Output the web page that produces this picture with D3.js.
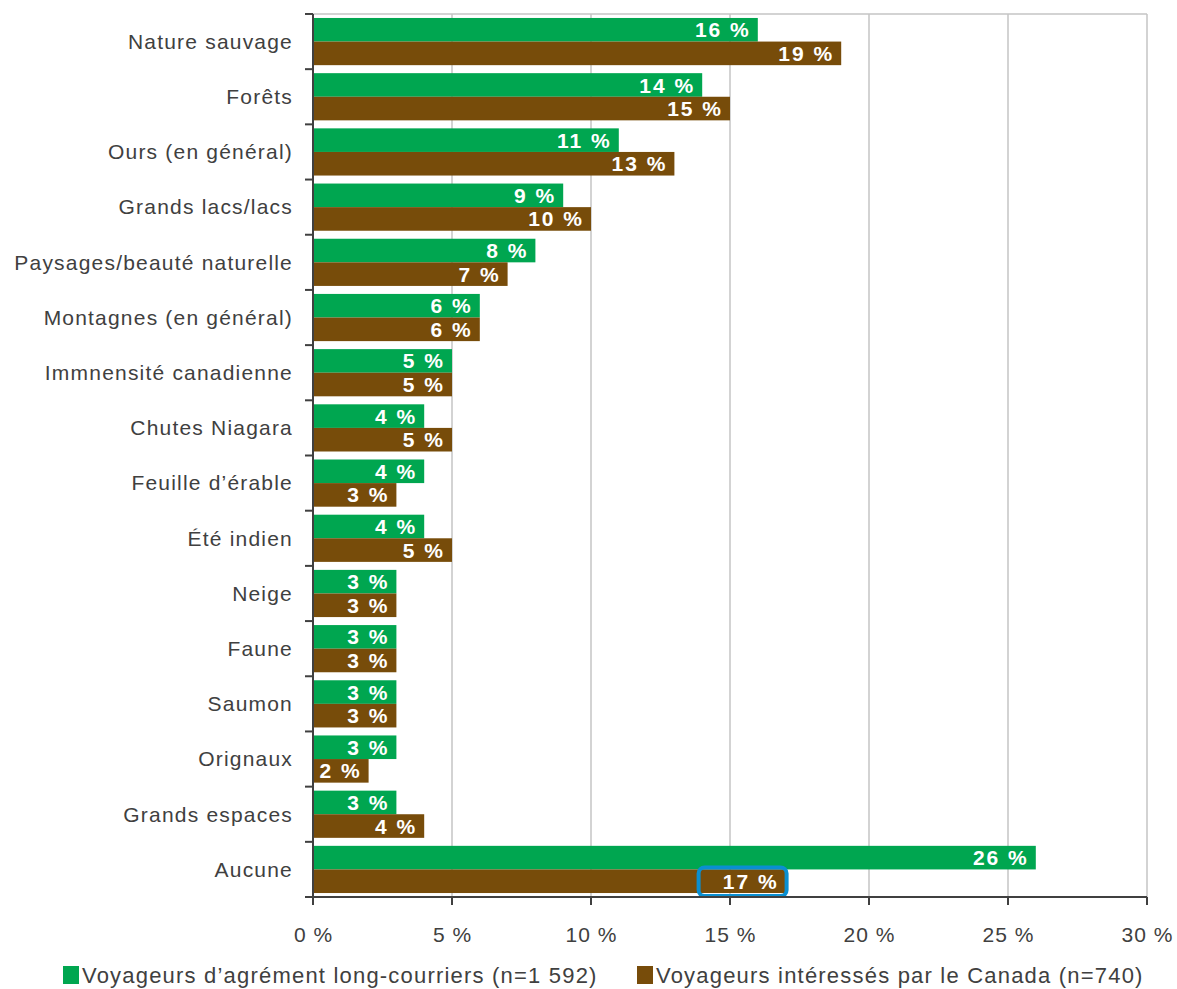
<!DOCTYPE html>
<html lang="fr">
<head>
<meta charset="utf-8">
<script src="https://d3js.org/d3.v7.min.js"></script>
<style>
  body { margin: 0; background: #fff; }
  svg text { font-family: "Liberation Sans", Arial, sans-serif; }
</style>
</head>
<body>
<div id="chart"></div>
<script>
  const categories = ["Nature sauvage", "Forêts", "Ours (en général)", "Grands lacs/lacs",
    "Paysages/beauté naturelle", "Montagnes (en général)", "Immnensité canadienne",
    "Chutes Niagara", "Feuille d’érable", "Été indien", "Neige", "Faune", "Saumon",
    "Orignaux", "Grands espaces", "Aucune"];
  const longHaul = [16, 14, 11, 9, 8, 6, 5, 4, 4, 4, 3, 3, 3, 3, 3, 26];
  const canada = [19, 15, 13, 10, 7, 6, 5, 5, 3, 5, 3, 3, 3, 2, 4, 17];
  const seriesNames = ["Voyageurs d’agrément long-courriers (n=1 592)",
    "Voyageurs intéressés par le Canada (n=740)"];
  const xTicks = [0, 5, 10, 15, 20, 25, 30];
  const colors = ["#00a650", "#774c0a"];
  const highlight = { cat: "Aucune", series: 1 };

  const W = 1177, H = 989;
  const m = { left: 313, right: 30, top: 14, bottom: 92 };
  const svg = d3.select("#chart").append("svg").attr("width", W).attr("height", H);

  const x = d3.scaleLinear().domain([0, 30]).range([m.left, W - m.right]);
  const y = d3.scaleBand().domain(categories).range([m.top, H - m.bottom]).paddingInner(0.145).paddingOuter(0.072);
  const ySub = d3.scaleBand().domain([0, 1]).range([0, y.bandwidth()]);

  // grid
  svg.append("g").selectAll("line").data(xTicks.slice(1)).join("line")
    .attr("x1", d => x(d)).attr("x2", d => x(d))
    .attr("y1", m.top).attr("y2", H - m.bottom)
    .attr("stroke", "#c4c4c4").attr("stroke-width", 1.5);
  svg.append("line").attr("x1", m.left).attr("x2", x(30))
    .attr("y1", m.top).attr("y2", m.top).attr("stroke", "#c4c4c4").attr("stroke-width", 1.5);

  const rows = categories.map((c, i) => ({ c, v: [longHaul[i], canada[i]] }));
  const g = svg.append("g").selectAll("g").data(rows).join("g")
    .attr("transform", d => `translate(0,${y(d.c)})`);
  [0, 1].forEach(s => {
    g.append("rect")
      .attr("x", x(0)).attr("y", ySub(s))
      .attr("width", d => x(d.v[s]) - x(0)).attr("height", ySub.bandwidth())
      .attr("fill", colors[s]);
    g.append("text")
      .attr("x", d => x(d.v[s]) - 7).attr("y", ySub(s) + ySub.bandwidth() / 2)
      .attr("dy", "0.36em").attr("text-anchor", "end")
      .attr("fill", "#fff").attr("font-size", 21).attr("font-weight", "bold")
      .attr("letter-spacing", 2)
      .text(d => d.v[s] + " %");
  });

  // highlight box
  const hi = categories.indexOf(highlight.cat);
  const hv = [longHaul, canada][highlight.series][hi];
  svg.append("rect")
    .attr("x", x(hv) - 87).attr("y", y(highlight.cat) + ySub(highlight.series) - 2)
    .attr("width", 88).attr("height", ySub.bandwidth() + 5)
    .attr("rx", 6).attr("fill", "none").attr("stroke", "#0a8fd1").attr("stroke-width", 4);

  // axes
  const yAxis = svg.append("g").attr("transform", `translate(${m.left},0)`);
  yAxis.append("line").attr("x1", 0).attr("x2", 0).attr("y1", m.top).attr("y2", H - m.bottom)
    .attr("stroke", "#404040").attr("stroke-width", 2);
  const bounds = categories.map(c => y(c) - y.step() * y.paddingInner() / 2).concat([H - m.bottom]);
  yAxis.selectAll(".tk").data(bounds).join("line")
    .attr("x1", -8).attr("x2", 0).attr("y1", d => d).attr("y2", d => d)
    .attr("stroke", "#404040").attr("stroke-width", 2);
  yAxis.selectAll("text").data(categories).join("text")
    .attr("x", -20).attr("y", c => y(c) + y.bandwidth() / 2).attr("dy", "0.35em")
    .attr("text-anchor", "end").attr("fill", "#404040").attr("font-size", 21)
    .attr("letter-spacing", 1.2)
    .text(c => c);

  const xAxis = svg.append("g").attr("transform", `translate(0,${H - m.bottom})`);
  xAxis.append("line").attr("x1", m.left).attr("x2", x(30)).attr("stroke", "#404040").attr("stroke-width", 2);
  xAxis.selectAll(".tk").data(xTicks).join("line")
    .attr("x1", d => x(d)).attr("x2", d => x(d)).attr("y1", 0).attr("y2", 8)
    .attr("stroke", "#404040").attr("stroke-width", 2);
  xAxis.selectAll("text").data(xTicks).join("text")
    .attr("x", d => x(d) + 0.5).attr("y", 45).attr("text-anchor", "middle")
    .attr("fill", "#404040").attr("font-size", 21).attr("letter-spacing", 1)
    .text(d => d + " %");

  // legend
  const lx = [63, 637];
  const leg = svg.append("g").selectAll("g").data(seriesNames).join("g")
    .attr("transform", (d, i) => `translate(${lx[i]},${H - 23})`);
  leg.append("rect").attr("width", 16).attr("height", 18).attr("fill", (d, i) => colors[i]);
  leg.append("text").attr("x", 19).attr("y", 17).attr("fill", "#404040").attr("font-size", 22)
    .attr("letter-spacing", 1.2).text(d => d);
</script>
</body>
</html>
